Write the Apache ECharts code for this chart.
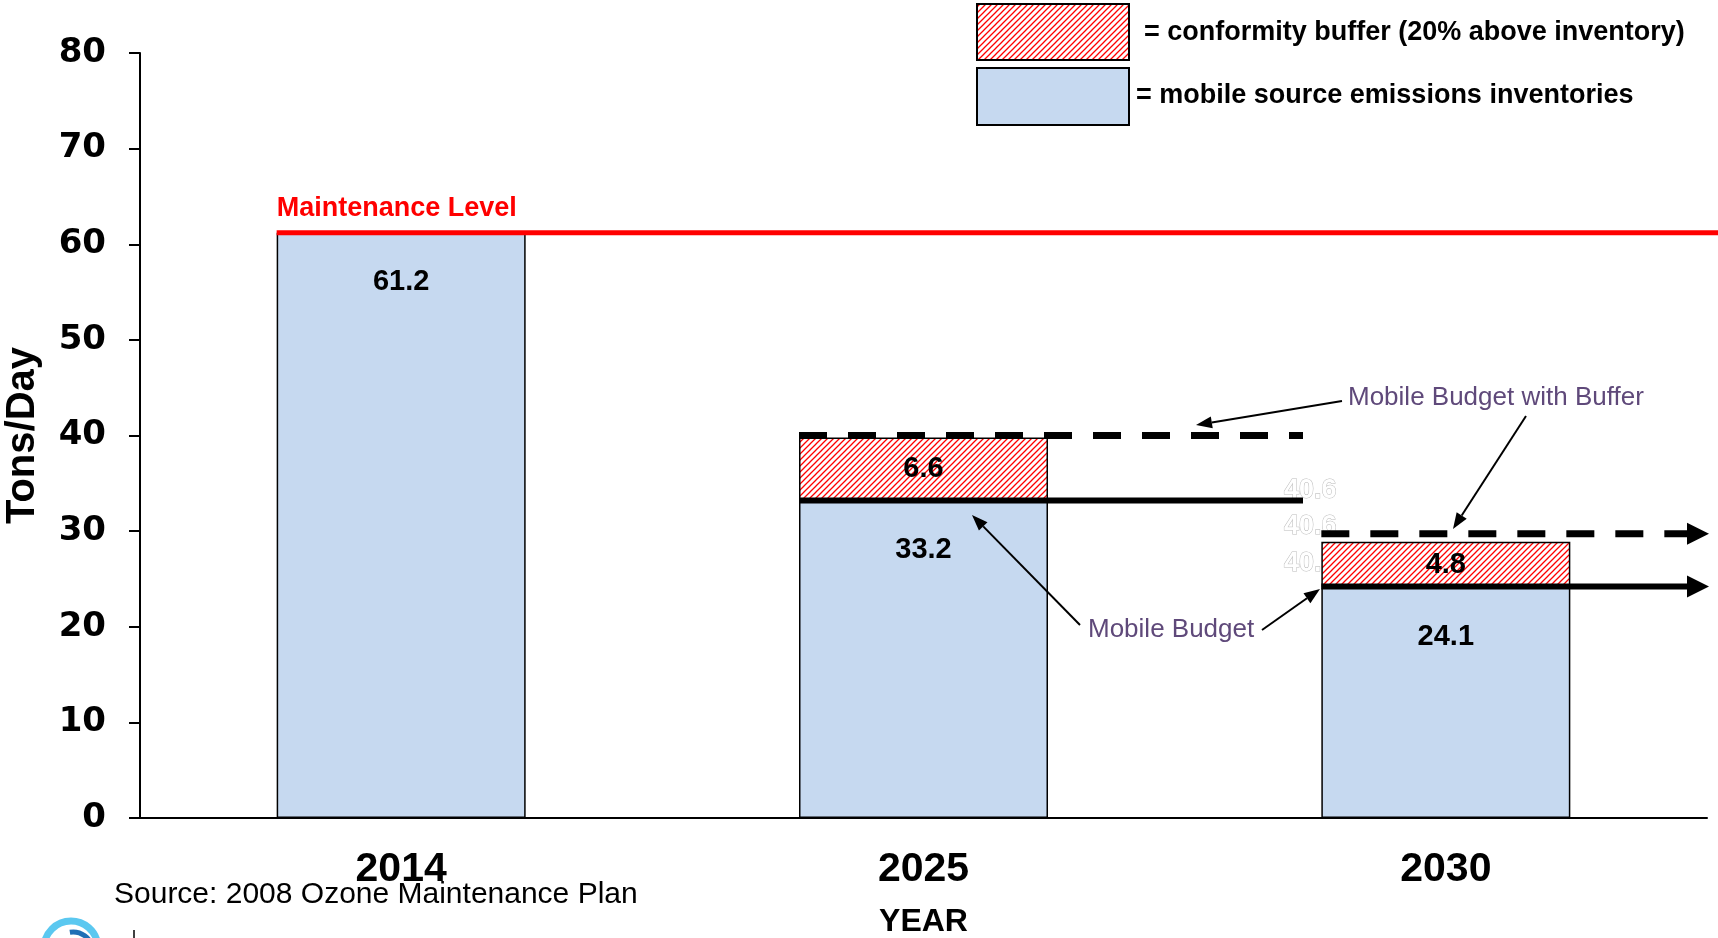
<!DOCTYPE html>
<html><head><meta charset="utf-8">
<script src="https://cdn.jsdelivr.net/npm/echarts@6/dist/echarts.min.js"></script>
<style>html,body{margin:0;padding:0;background:#fff}#c{width:1718px;height:938px}</style>
</head><body><div id="c"></div>
<script>
const categories = ['2014', '2025', '2030'];
const inventory = [61.2, 33.2, 24.1];
const buffer = ['-', 6.6, 4.8];
const maintenanceLevel = 61.2;
const yMin = 0, yMax = 80, yStep = 10;
const ghostLabels = ['40.6', '40.6', '40.'];
const legendTexts = ['= conformity buffer (20% above inventory)', '= mobile source emissions inventories'];

function hatchCanvas() {
  const c = document.createElement('canvas');
  c.width = 6; c.height = 6;
  const g = c.getContext('2d');
  g.fillStyle = '#fff'; g.fillRect(0, 0, 6, 6);
  g.strokeStyle = '#ff0000'; g.lineWidth = 1.3;
  g.beginPath();
  g.moveTo(0, 6); g.lineTo(6, 0);
  g.moveTo(-1, 1); g.lineTo(1, -1);
  g.moveTo(5, 7); g.lineTo(7, 5);
  g.stroke();
  return c;
}
const hatch = { image: hatchCanvas(), repeat: 'repeat' };
const BLUE = '#C6D9F0';
const PURPLE = '#5F497A';
const BAR_W = 249;

const chart = echarts.init(document.getElementById('c'));
chart.setOption({
  animation: false,
  backgroundColor: '#fff',
  grid: { left: 140, right: 11, top: 53, bottom: 120, containLabel: false, outerBoundsMode: 'none' },
  xAxis: {
    type: 'category', data: categories,
    axisLine: { lineStyle: { color: '#000', width: 2 } },
    axisTick: { show: false },
    axisLabel: { color: '#000', fontFamily: 'Liberation Sans Narrow, Liberation Sans, Arial', fontWeight: 'bold', fontSize: 41, margin: 31 },
    name: 'YEAR', nameLocation: 'middle', nameGap: 88,
    nameTextStyle: { color: '#000', fontFamily: 'Liberation Sans, Arial', fontWeight: 'bold', fontSize: 32 }
  },
  yAxis: {
    type: 'value', min: yMin, max: yMax, interval: yStep,
    axisLine: { show: true, lineStyle: { color: '#000', width: 2 } },
    axisTick: { show: true, length: 11, lineStyle: { color: '#000', width: 2 } },
    splitLine: { show: false },
    axisLabel: { color: '#000', fontFamily: 'DejaVu Sans, Arial', fontWeight: 'bold', fontSize: 34, margin: 34 },
    name: 'Tons/Day', nameLocation: 'middle', nameGap: 97, nameRotate: 90,
    nameTextStyle: { color: '#000', fontFamily: 'Liberation Sans Narrow, Liberation Sans, Arial', fontWeight: 'bold', fontSize: 40 }
  },
  series: [
    {
      name: 'inventory', type: 'bar', stack: 's', data: inventory, barWidth: BAR_W,
      itemStyle: { color: BLUE, borderColor: '#000', borderWidth: 1.5 },
      label: { show: true, position: 'insideTop', distance: 35, color: '#000', fontFamily: 'Liberation Sans, Arial', fontWeight: 'bold', fontSize: 29 }
    },
    {
      name: 'buffer', type: 'bar', stack: 's', data: buffer, barWidth: BAR_W,
      itemStyle: { color: hatch, borderColor: '#000', borderWidth: 1.5 },
      label: { show: true, position: 'inside', color: '#000', fontFamily: 'Liberation Sans, Arial', fontWeight: 'bold', fontSize: 29 }
    }
  ]
});

function px(i, v) { return chart.convertToPixel({ gridIndex: 0 }, [categories[i], v]); }
function arrow(x1, y1, x2, y2, w, hl, hw, color) {
  const a = Math.atan2(y2 - y1, x2 - x1);
  const bx = x2 - hl * Math.cos(a), by = y2 - hl * Math.sin(a);
  const nx = -Math.sin(a) * hw / 2, ny = Math.cos(a) * hw / 2;
  return [
    { type: 'line', z: 100, shape: { x1, y1, x2: bx, y2: by }, style: { stroke: color, lineWidth: w } },
    { type: 'polygon', z: 100, shape: { points: [[x2, y2], [bx + nx, by + ny], [bx - nx, by - ny]] }, style: { fill: color } }
  ];
}

const els = [];
// ghost labels (faint white outlined)
const ghostY = [491, 527, 564];
ghostLabels.forEach((t, k) => {
  els.push({ type: 'text', z: 0, x: 1284, y: ghostY[k], style: { text: t, fill: '#fff', stroke: '#bbb', lineWidth: 1, font: 'bold 27px Liberation Sans, Arial', verticalAlign: 'middle' } });
});
// maintenance level
const m = px(0, maintenanceLevel);
const mLeft = m[0] - BAR_W / 2;
els.push({ type: 'line', z: 100, shape: { x1: mLeft, y1: m[1], x2: 1718, y2: m[1] }, style: { stroke: '#ff0000', lineWidth: 5 } });
els.push({ type: 'text', z: 100, x: mLeft, y: m[1] - 24, style: { text: 'Maintenance Level', fill: '#ff0000', font: 'bold 27px Liberation Sans, Arial', verticalAlign: 'middle' } });

// budget lines
const b1 = px(1, inventory[1]), d1 = px(1, inventory[1] + buffer[1]);
const l1 = b1[0] - BAR_W / 2;
els.push({ type: 'line', z: 100, shape: { x1: l1, y1: b1[1], x2: l1 + 504, y2: b1[1] }, style: { stroke: '#000', lineWidth: 6 } });
els.push({ type: 'line', z: 100, shape: { x1: l1, y1: d1[1] - 2, x2: l1 + 504, y2: d1[1] - 2 }, style: { stroke: '#000', lineWidth: 7, lineDash: [28, 21] } });
const b2 = px(2, inventory[2]), d2 = px(2, inventory[2] + buffer[2]);
const l2 = b2[0] - BAR_W / 2;
els.push(...arrow(l2, b2[1] - 1, 1709, b2[1] - 1, 6, 22, 22, '#000'));
const dy2 = d2[1] - 8;
els.push({ type: 'line', z: 100, shape: { x1: l2, y1: dy2, x2: 1688, y2: dy2 }, style: { stroke: '#000', lineWidth: 7, lineDash: [28, 21] } });
els.push({ type: 'polygon', z: 100, shape: { points: [[1709, dy2], [1687, dy2 - 11], [1687, dy2 + 11]] }, style: { fill: '#000' } });

// annotations
els.push({ type: 'text', z: 100, x: 1348, y: 398, style: { text: 'Mobile Budget with Buffer', fill: PURPLE, font: '26px Liberation Sans, Arial', verticalAlign: 'middle' } });
els.push(...arrow(1342, 401, 1196, 425, 2, 16, 12, '#000'));
els.push(...arrow(1526, 416, 1453, 529, 2, 16, 12, '#000'));
els.push({ type: 'text', z: 100, x: 1088, y: 630, style: { text: 'Mobile Budget', fill: PURPLE, font: '26px Liberation Sans, Arial', verticalAlign: 'middle' } });
els.push(...arrow(1080, 625, 972, 515, 2, 16, 12, '#000'));
els.push(...arrow(1262, 630, 1320, 589, 2, 16, 12, '#000'));

// legend
els.push({ type: 'rect', z: 100, shape: { x: 977, y: 4, width: 152, height: 56 }, style: { fill: hatch, stroke: '#000', lineWidth: 2 } });
els.push({ type: 'rect', z: 100, shape: { x: 977, y: 68, width: 152, height: 57 }, style: { fill: BLUE, stroke: '#000', lineWidth: 2 } });
els.push({ type: 'text', z: 100, x: 1144, y: 33, style: { text: legendTexts[0], fill: '#000', font: 'bold 27px Liberation Sans Narrow, Liberation Sans, Arial', verticalAlign: 'middle' } });
els.push({ type: 'text', z: 100, x: 1136, y: 96, style: { text: legendTexts[1], fill: '#000', font: 'bold 27px Liberation Sans Narrow, Liberation Sans, Arial', verticalAlign: 'middle' } });

// source
els.push({ type: 'text', z: 100, x: 114, y: 895, style: { text: 'Source: 2008 Ozone Maintenance Plan', fill: '#000', font: '30px Liberation Sans Narrow, Liberation Sans, Arial', verticalAlign: 'middle' } });
// logo fragment
els.push({ type: 'arc', z: 100, shape: { cx: 71, cy: 948, r: 27, startAngle: Math.PI * 1.0, endAngle: Math.PI * 1.95, clockwise: true }, style: { stroke: '#5BC8F0', lineWidth: 7, fill: null } });
els.push({ type: 'arc', z: 100, shape: { cx: 73, cy: 952, r: 20, startAngle: Math.PI * 1.45, endAngle: Math.PI * 1.95, clockwise: true }, style: { stroke: '#1F6FB5', lineWidth: 5, fill: null } });
els.push({ type: 'line', z: 100, shape: { x1: 134, y1: 930, x2: 134, y2: 938 }, style: { stroke: '#000', lineWidth: 1.5 } });

chart.setOption({ graphic: { elements: els } });
</script></body></html>
